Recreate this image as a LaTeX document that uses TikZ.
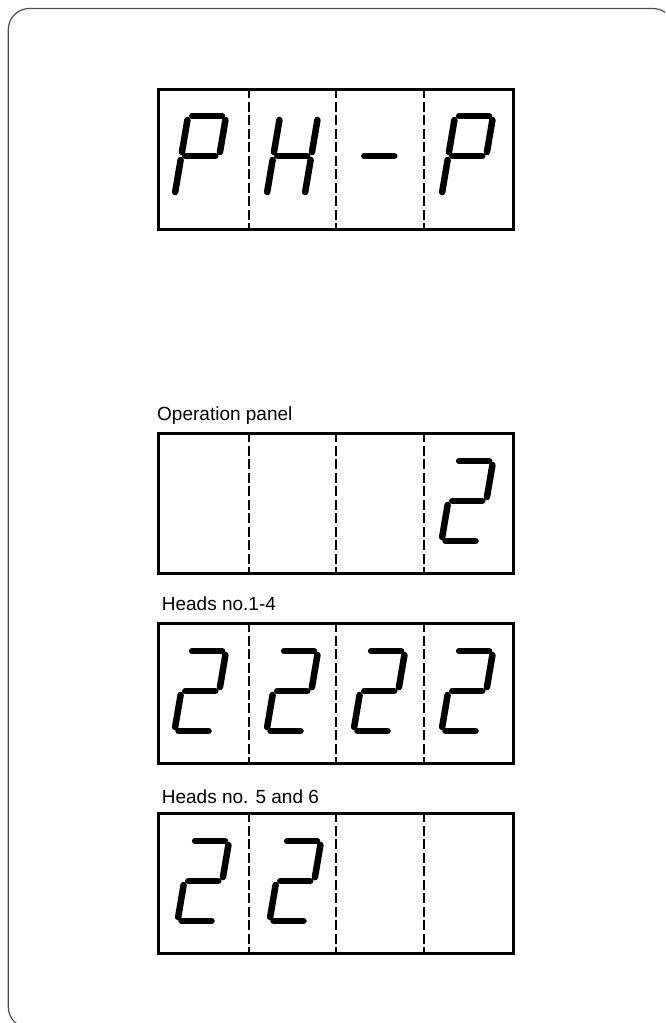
\documentclass[tikz,border=0pt]{standalone}
\usepackage{fontspec}
\setmainfont{Liberation Sans}
\usepackage{tikz}

\newcommand{\captionfont}{\fontsize{19}{22}\selectfont}

% one slanted seven-segment digit: cell left, box top, segments
\newcommand{\digsega}{\draw[seg] (sA) -- (sB);}
\newcommand{\digsegb}{\draw[seg] (sB) -- (sD);}
\newcommand{\digsegc}{\draw[seg] (sD) -- (sF);}
\newcommand{\digsegd}{\draw[seg] (sE) -- (sF);}
\newcommand{\digsege}{\draw[seg] (sC) -- (sE);}
\newcommand{\digsegf}{\draw[seg] (sA) -- (sC);}
\newcommand{\digsegg}{\draw[seg] (sC) -- (sD);}
\newcommand{\segdigit}[3]{%
  \begin{scope}[shift={(#1+17.5,#2+109)}, xslant=0.17]
    \coordinate (sA) at (0,-80);   \coordinate (sB) at (38,-80);
    \coordinate (sC) at (0,-40);   \coordinate (sD) at (38,-40);
    \coordinate (sE) at (0,0);     \coordinate (sF) at (38,0);
    \foreach \s in {#3} {\csname digseg\s\endcsname}
  \end{scope}}

\begin{document}
\begin{tikzpicture}[x=1pt, y=-1pt,
    panel/.style={draw, line width=2.8pt, minimum width=355pt, minimum height=140pt,
                  inner sep=0pt, anchor=north west},
    divider/.style={line width=1.2pt, dash pattern=on 10pt off 3.5pt},
    seg/.style={line width=6.5pt, line cap=round, shorten <=4pt, shorten >=4pt},
    caption/.style={anchor=base west, inner sep=0pt, font=\captionfont}]

    \useasboundingbox (0,0) rectangle (665,1023);
    \clip (0,0) rectangle (665,1023);

    % outer frame
    \draw[black!70, line width=1.2pt, rounded corners=21pt] (8.3,8.5) rectangle (674,1028);

    % panels
    \node[panel] (php) at (157,88) {};
    \node[panel] (oppanel) at (157,432) {};
    \node[panel] (heads14) at (157,622) {};
    \node[panel] (heads56) at (157,812) {};

    \foreach \t in {88,432,622,812}
        \foreach \x in {249,336,424}
            \draw[divider] (\x,\t) -- (\x,\t+140);

    % captions
    \node[caption] (oplabel) at (157,420) {Operation panel};
    \node[caption] (h14label) at (161.7,610) {Heads no.1-4};
    \node[caption] (h56label) at (161.7,803.3) {Heads no. 5 and 6};

    % PH-P
    \segdigit{157}{87}{a,b,f,g,e}
    \segdigit{249}{87}{b,c,e,f,g}
    \segdigit{336}{87}{g}
    \segdigit{424}{87}{a,b,f,g,e}

    % 2
    \segdigit{424}{432}{a,b,g,e,d}

    % 2222
    \foreach \x in {157,249,336,424} {
        \segdigit{\x}{622}{a,b,g,e,d}
    }

    % 22
    \segdigit{160}{812}{a,b,g,e,d}
    \segdigit{252}{812}{a,b,g,e,d}

\end{tikzpicture}
\end{document}
